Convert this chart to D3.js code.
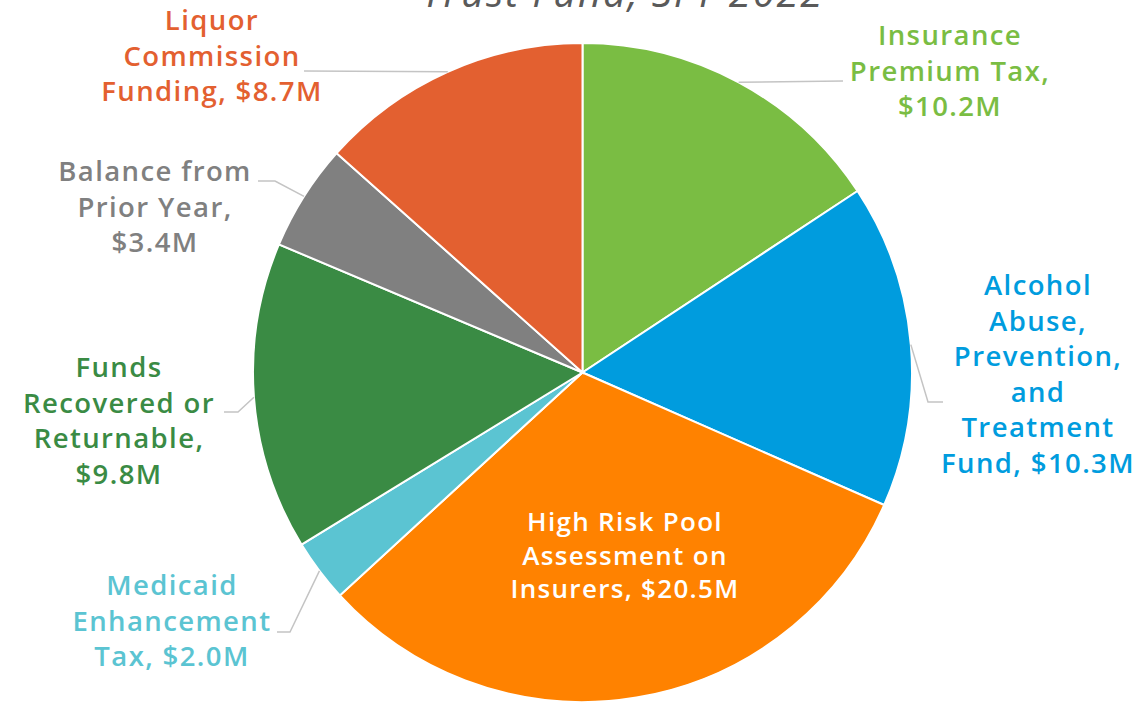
<!DOCTYPE html>
<html>
<head>
<meta charset="utf-8">
<script src="https://cdn.jsdelivr.net/npm/d3@7"></script>
<style>
	html, body { margin: 0; padding: 0; background: #fff; }
	svg { display: block; }
	.lbl { font-family: "Open Sans", sans-serif; font-weight: 600; font-size: 27.5px; letter-spacing: 1.4px; }
	.lbl.inside { font-size: 26px; letter-spacing: 1.3px; }
	.title { font-family: "Open Sans", sans-serif; font-style: italic; font-size: 40px; letter-spacing: 1.8px; fill: #5a5a5a; }
</style>
</head>
<body>
<div id="chart"></div>
<script>

// Chart data
var categories = [
	"Insurance Premium Tax",
	"Alcohol Abuse, Prevention, and Treatment Fund",
	"High Risk Pool Assessment on Insurers",
	"Medicaid Enhancement Tax",
	"Funds Recovered or Returnable",
	"Balance from Prior Year",
	"Liquor Commission Funding"
];
var values = [10.2, 10.3, 20.5, 2.0, 9.8, 3.4, 8.7];
var labelLines = [
	["Insurance", "Premium Tax,", "$10.2M"],
	["Alcohol", "Abuse,", "Prevention,", "and", "Treatment", "Fund, $10.3M"],
	["High Risk Pool", "Assessment on", "Insurers, $20.5M"],
	["Medicaid", "Enhancement", "Tax, $2.0M"],
	["Funds", "Recovered or", "Returnable,", "$9.8M"],
	["Balance from", "Prior Year,", "$3.4M"],
	["Liquor", "Commission", "Funding, $8.7M"]
];
var colors = ["#7abd43", "#009cde", "#ff8200", "#5bc4d2", "#3a8b44", "#808080", "#e36030"];

// Layout (text position = centre x, first baseline; elbow = leader line bend, end = where it meets text)
var W = 1140, H = 703;
var cx = 582.5, cy = 372.5, r = 329.5;
var lineH = 35.5;
var layout = [
	{ x: 950, y: 45, elbow: null, end: [843, 81] },
	{ x: 1038, y: 295, elbow: [928, 402], end: [943, 402] },
	{ x: 625, y: 531, inside: true, lh: 33.5 },
	{ x: 172, y: 595, elbow: [290, 632], end: [277, 632] },
	{ x: 119, y: 377, elbow: [238, 412], end: [224, 412] },
	{ x: 155, y: 181, elbow: [275, 181], end: [258, 181] },
	{ x: 212, y: 30, elbow: null, end: [304, 71] }
];

var svg = d3.select("#chart").append("svg")
	.attr("width", W)
	.attr("height", H);

svg.append("text")
	.attr("class", "title")
	.attr("x", 623)
	.attr("y", 7)
	.attr("text-anchor", "middle")
	.text("Trust Fund, SFY 2022");

var pie = d3.pie().sort(null).value(function(d) { return d; });
var arcs = pie(values);

var arc = d3.arc().innerRadius(0).outerRadius(r);
var edge = d3.arc().innerRadius(r).outerRadius(r);

var g = svg.append("g").attr("transform", "translate(" + cx + "," + cy + ")");

g.selectAll("path.slice")
	.data(arcs)
	.enter().append("path")
	.attr("class", "slice")
	.attr("d", arc)
	.attr("fill", function(d, i) { return colors[i]; })
	.attr("stroke", "#fff")
	.attr("stroke-width", 2);

// Leader lines, from the slice's mid-angle on the rim
arcs.forEach(function(d, i) {
	var lay = layout[i];
	if (lay.inside) return;
	var p = edge.centroid(d);
	var pts = [[p[0] + cx, p[1] + cy]];
	if (lay.elbow) pts.push(lay.elbow);
	pts.push(lay.end);
	svg.append("polyline")
		.attr("points", pts.map(function(q) { return q.join(","); }).join(" "))
		.attr("fill", "none")
		.attr("stroke", "#c4c4c4")
		.attr("stroke-width", 1.5);
});

// Labels
labelLines.forEach(function(lines, i) {
	var lay = layout[i];
	var t = svg.append("text")
		.attr("class", lay.inside ? "lbl inside" : "lbl")
		.attr("text-anchor", "middle")
		.attr("fill", lay.inside ? "#fff" : colors[i]);
	lines.forEach(function(s, k) {
		t.append("tspan")
			.attr("x", lay.x)
			.attr("y", lay.y + k * (lay.lh || lineH))
			.text(s);
	});
});

</script>
</body>
</html>
